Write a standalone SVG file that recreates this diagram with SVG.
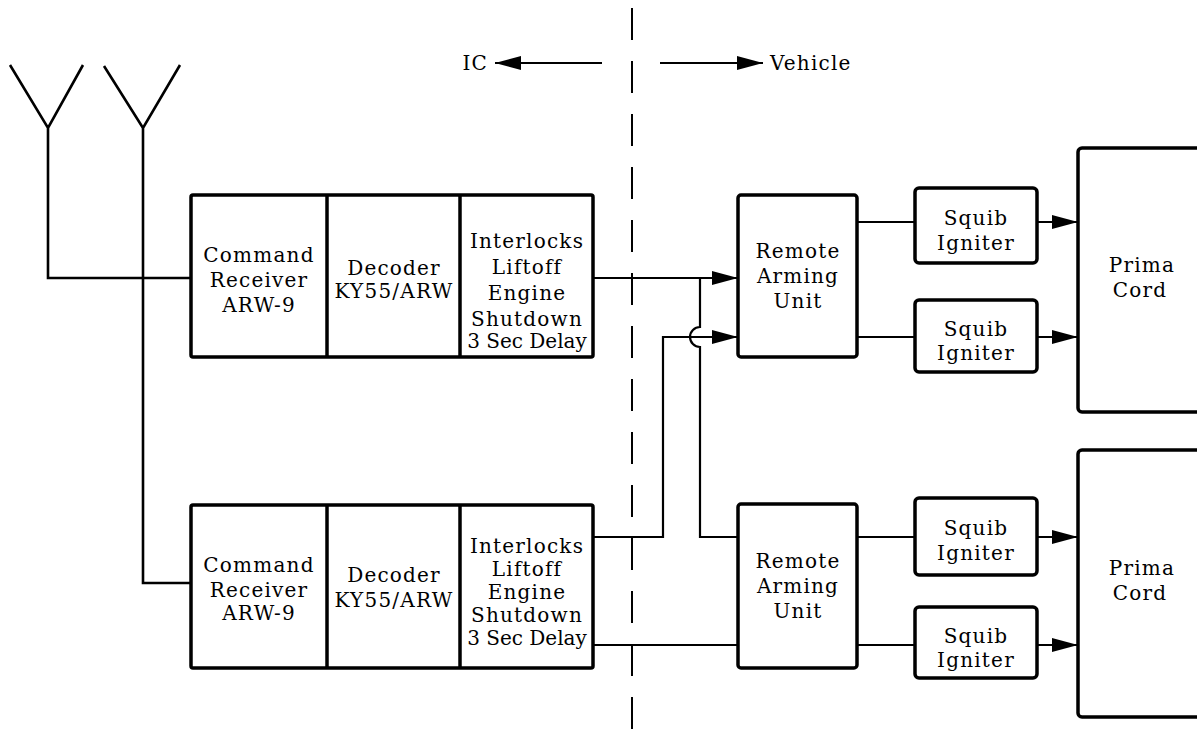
<svg xmlns="http://www.w3.org/2000/svg" width="1197" height="729" viewBox="0 0 1197 729">
<defs>
<style>
.box{fill:#fff;stroke:#000;stroke-width:3.5}
.div{stroke:#000;stroke-width:3.5;fill:none}
.ln{stroke:#000;stroke-width:2.2;fill:none}
.ant{stroke:#000;stroke-width:2.6;fill:none}
.dash{stroke:#000;stroke-width:2;stroke-dasharray:32 21;fill:none}
text{font-family:"DejaVu Serif","Liberation Serif",serif;font-size:20px;fill:#000;letter-spacing:1.2px}
.c{text-anchor:middle}
</style>
<marker id="ah" markerUnits="userSpaceOnUse" markerWidth="26" markerHeight="14" refX="26" refY="7" orient="auto">
<path d="M0,0 L26,7 L0,14 z" fill="#000"/>
</marker>
</defs>
<rect width="1197" height="729" fill="#fff"/>

<g id="boundary">
<line class="dash" x1="632" y1="8" x2="632" y2="729"/>
<line class="ln" x1="602" y1="63" x2="495" y2="63" marker-end="url(#ah)"/>
<line class="ln" x1="660" y1="63" x2="763" y2="63" marker-end="url(#ah)"/>
<text x="488" y="70" style="text-anchor:end">IC</text>
<text x="770" y="70">Vehicle</text>
</g>

<g id="connectors">
<path class="ant" d="M10,65 L48,128 L83,65 M48,128 V278 H191"/>
<path class="ant" d="M104,66 L143,128 L180,65 M143,128 V583 H191"/>
<path class="ln" d="M593,278 H738" marker-end="url(#ah)"/>
<path class="ln" d="M700,278 V327 A10,10 0 0 0 700,347 V537 H738"/>
<path class="ln" d="M593,537 H663 V337 H738" marker-end="url(#ah)"/>
<path class="ln" d="M593,645 H738"/>
<path class="ln" d="M857,222 H915 M857,337 H915 M857,537 H915 M857,645 H915"/>
<path class="ln" d="M1037,222 H1078" marker-end="url(#ah)"/>
<path class="ln" d="M1037,337 H1078" marker-end="url(#ah)"/>
<path class="ln" d="M1037,537 H1078" marker-end="url(#ah)"/>
<path class="ln" d="M1037,645 H1078" marker-end="url(#ah)"/>
</g>

<g id="receiver-chain-1">
<rect class="box" x="191" y="195" width="402" height="162" rx="2"/>
<line class="div" x1="327" y1="195" x2="327" y2="357"/>
<line class="div" x1="460" y1="195" x2="460" y2="357"/>
<text class="c" x="259" y="262">Command</text>
<text class="c" x="259" y="287">Receiver</text>
<text class="c" x="259" y="312">ARW-9</text>
<text class="c" x="394" y="275">Decoder</text>
<text class="c" x="394" y="298">KY55/ARW</text>
<text class="c" x="527" y="248">Interlocks</text>
<text class="c" x="527" y="274">Liftoff</text>
<text class="c" x="527" y="300">Engine</text>
<text class="c" x="527" y="326">Shutdown</text>
<text class="c" x="527" y="348" style="letter-spacing:0">3 Sec Delay</text>
</g>

<g id="receiver-chain-2">
<rect class="box" x="191" y="505" width="402" height="163" rx="2"/>
<line class="div" x1="327" y1="505" x2="327" y2="668"/>
<line class="div" x1="460" y1="505" x2="460" y2="668"/>
<text class="c" x="259" y="572">Command</text>
<text class="c" x="259" y="597">Receiver</text>
<text class="c" x="259" y="620">ARW-9</text>
<text class="c" x="394" y="582">Decoder</text>
<text class="c" x="394" y="607">KY55/ARW</text>
<text class="c" x="527" y="553">Interlocks</text>
<text class="c" x="527" y="576">Liftoff</text>
<text class="c" x="527" y="599">Engine</text>
<text class="c" x="527" y="622">Shutdown</text>
<text class="c" x="527" y="645" style="letter-spacing:0">3 Sec Delay</text>
</g>

<g id="rau-1">
<rect class="box" x="738" y="195" width="119" height="162" rx="3"/>
<text class="c" x="798" y="258">Remote</text>
<text class="c" x="798" y="283">Arming</text>
<text class="c" x="798" y="308">Unit</text>
</g>
<g id="rau-2">
<rect class="box" x="738" y="504" width="119" height="164" rx="3"/>
<text class="c" x="798" y="568">Remote</text>
<text class="c" x="798" y="593">Arming</text>
<text class="c" x="798" y="618">Unit</text>
</g>

<g id="squib-1">
<rect class="box" x="915" y="188" width="122" height="75" rx="4"/>
<text class="c" x="976" y="225">Squib</text>
<text class="c" x="976" y="250">Igniter</text>
</g>
<g id="squib-2">
<rect class="box" x="915" y="300" width="122" height="72" rx="4"/>
<text class="c" x="976" y="336">Squib</text>
<text class="c" x="976" y="360">Igniter</text>
</g>
<g id="squib-3">
<rect class="box" x="915" y="498" width="122" height="77" rx="4"/>
<text class="c" x="976" y="535">Squib</text>
<text class="c" x="976" y="560">Igniter</text>
</g>
<g id="squib-4">
<rect class="box" x="915" y="607" width="122" height="71" rx="4"/>
<text class="c" x="976" y="643">Squib</text>
<text class="c" x="976" y="667">Igniter</text>
</g>

<g id="prima-1">
<rect class="box" x="1078" y="148" width="140" height="264" rx="4"/>
<text class="c" x="1142" y="272">Prima</text>
<text class="c" x="1140" y="297">Cord</text>
</g>
<g id="prima-2">
<rect class="box" x="1078" y="450" width="140" height="267" rx="4"/>
<text class="c" x="1142" y="575">Prima</text>
<text class="c" x="1140" y="600">Cord</text>
</g>
</svg>
